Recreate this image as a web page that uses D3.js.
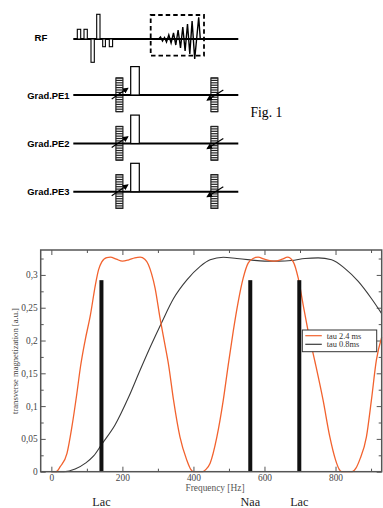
<!DOCTYPE html>
<html>
<head>
<meta charset="utf-8">
<script src="https://cdn.jsdelivr.net/npm/d3@7.9.0/dist/d3.min.js"></script>
<style>
  body { margin: 0; background: #fff; }
  svg { display: block; }
</style>
</head>
<body>
<div id="chart"></div>
<script>
// ---- pulse sequence diagram (offsets along the time axis, amplitudes in px) ----
const rfPulses = [
  { t: 4.0, w: 3.4, a: 9.7 },
  { t: 10.7, w: 3.3, a: 9.7 },
  { t: 17.7, w: 3.3, a: -23.3 },
  { t: 23.4, w: 3.3, a: 24.7 },
  { t: 29.4, w: 2.7, a: -7.7 },
  { t: 36.0, w: 3.3, a: -7.7 },
];
const echoPoints = [
  [85.4, 0], [87.2, 2], [89.2, -2], [91.2, 1.5], [93.2, -3], [95.5, 4], [97.8, -4],
  [100.2, 6], [102.5, -6], [104.8, 9], [107.2, -9], [109.5, 12], [111.8, -12],
  [114.2, 15], [116.5, -15], [118.8, 18], [121.4, -20], [125.4, 21.7], [127.0, 0],
];
const echoBox = { t0: 77.4, t1: 130.7, top: 24, bottom: -16.7 };
const gradRows = ['Grad.PE1', 'Grad.PE2', 'Grad.PE3'];
const gradBaselines = [95, 143.5, 191.7];
const gradLobe = { t: 57.4, w: 8.6, a: 28.4 };
const ladderPos = [42.6, 137.6];
const ladderRungs = [-17, -14.6, -12.2, -9.8, -7.4, -5, -2.6, -0.2, 2.2, 4.6, 7, 9.4, 11.8, 14.2, 16.6];
const arrowsPE = [
  { from: [38.4, -4], to: [54.4, 6.7] },
  { from: [150, 5], to: [134, -5] },
];

// ---- frequency response plot ----
const tau24 = [
  [0, 0], [13, 0], [25, 0.0076], [44, 0.028], [58, 0.069], [72, 0.12], [82, 0.16], [95, 0.2],
  [110, 0.239], [124, 0.285], [133, 0.308], [142, 0.32], [156, 0.3265], [166, 0.327],
  [183, 0.324], [200, 0.321], [218, 0.323], [235, 0.326], [250, 0.327], [263, 0.324],
  [273, 0.316], [282, 0.302], [292, 0.28], [306, 0.234], [320, 0.193], [330, 0.163],
  [344, 0.109], [362, 0.053], [381, 0.018], [392, 0.004], [400, 0], [426, 0], [436, 0.004],
  [447, 0.013], [466, 0.053], [484, 0.109], [498, 0.163], [512, 0.214], [526, 0.259],
  [540, 0.295], [554, 0.318], [568, 0.325], [582, 0.327], [600, 0.324], [629, 0.321],
  [650, 0.324], [665, 0.327], [681, 0.32], [695, 0.295], [709, 0.254], [723, 0.214],
  [742, 0.168], [765, 0.109], [784, 0.053], [800, 0.018], [810, 0.004], [817, 0], [847, 0],
  [857, 0.005], [868, 0.018], [887, 0.053], [901, 0.109], [915, 0.17], [930, 0.205],
];
const tau08 = [
  [0, 0], [35, 0], [67, 0.004], [96, 0.013], [119, 0.024], [142, 0.042], [180, 0.072],
  [217, 0.113], [250, 0.155], [280, 0.192], [311, 0.228], [344, 0.264], [381, 0.292],
  [419, 0.313], [447, 0.323], [484, 0.327], [522, 0.325], [559, 0.323], [600, 0.321],
  [640, 0.321], [676, 0.322], [714, 0.325], [751, 0.326], [789, 0.323], [826, 0.31],
  [864, 0.29], [901, 0.264], [930, 0.241],
];
const peakFreqs = [141, 560, 698];
const peakHeights = [0.292, 0.292, 0.292];
const peakNames = ['Lac', 'Naa', 'Lac'];
const xMajor = [0, 200, 400, 600, 800];
const xMinor = [100, 300, 500, 700, 900];
const yMajor = [0, 0.05, 0.1, 0.15, 0.2, 0.25, 0.3];
const yMinor = [0.025, 0.075, 0.125, 0.175, 0.225, 0.275, 0.325];
const legendItems = [
  { label: 'tau 2.4 ms', color: '#f2622e' },
  { label: 'tau 0.8ms', color: '#3a3a3a' },
];

const W = 383, H = 508;
const svg = d3.select('#chart').append('svg')
  .attr('width', W).attr('height', H)
  .attr('viewBox', `0 0 ${W} ${H}`);

// ================= diagram =================
const tx = d3.scaleLinear().domain([0, 165]).range([73.3, 238.3]);
const sansBold = 'Liberation Sans, Arial, sans-serif';
const rfBase = 39;

const diag = svg.append('g').attr('class', 'diagram');

diag.append('text')
  .attr('x', 34.5).attr('y', 40.8)
  .attr('font-family', sansBold).attr('font-weight', 'bold').attr('font-size', 9.6)
  .text('RF');

diag.append('line')
  .attr('x1', tx(0)).attr('x2', tx(165))
  .attr('y1', rfBase).attr('y2', rfBase)
  .attr('stroke', '#000').attr('stroke-width', 2);

diag.selectAll('rect.rf')
  .data(rfPulses)
  .join('rect')
  .attr('class', 'rf')
  .attr('x', d => tx(d.t))
  .attr('width', d => tx(d.t + d.w) - tx(d.t))
  .attr('y', d => d.a > 0 ? rfBase - d.a : rfBase)
  .attr('height', d => Math.abs(d.a))
  .attr('fill', '#fff').attr('stroke', '#000').attr('stroke-width', 1.1);

// dashed acquisition box
diag.append('rect')
  .attr('x', tx(echoBox.t0)).attr('y', rfBase - echoBox.top)
  .attr('width', tx(echoBox.t1) - tx(echoBox.t0))
  .attr('height', echoBox.top - echoBox.bottom)
  .attr('fill', 'none').attr('stroke', '#000').attr('stroke-width', 1.8)
  .attr('stroke-dasharray', '4.5,3');

diag.append('path')
  .attr('d', d3.line().x(d => tx(d[0])).y(d => rfBase - d[1])(echoPoints))
  .attr('fill', 'none').attr('stroke', '#000').attr('stroke-width', 1.4)
  .attr('stroke-linejoin', 'miter');

// arrow marker
svg.append('defs').append('marker')
  .attr('id', 'arr').attr('viewBox', '0 0 10 10')
  .attr('refX', 8).attr('refY', 5)
  .attr('markerWidth', 5).attr('markerHeight', 5)
  .attr('orient', 'auto')
  .append('path').attr('d', 'M0,0 L10,5 L0,10 z').attr('fill', '#000');

gradRows.forEach((name, i) => {
  const base = gradBaselines[i];
  const g = diag.append('g');
  g.append('text')
    .attr('x', 69.5).attr('y', base + 3.5)
    .attr('text-anchor', 'end')
    .attr('font-family', sansBold).attr('font-weight', 'bold').attr('font-size', 9.4)
    .text(name);

  // ladders (phase encoding tables)
  ladderPos.forEach(t => {
    const lg = g.append('g');
    lg.append('rect')
      .attr('x', tx(t)).attr('y', base + ladderRungs[0])
      .attr('width', tx(t + 7) - tx(t))
      .attr('height', ladderRungs[ladderRungs.length - 1] - ladderRungs[0])
      .attr('fill', '#fff').attr('stroke', '#222').attr('stroke-width', 1.2);
    lg.selectAll('line')
      .data(ladderRungs)
      .join('line')
      .attr('x1', tx(t)).attr('x2', tx(t + 7))
      .attr('y1', d => base + d).attr('y2', d => base + d)
      .attr('stroke', '#222').attr('stroke-width', 1.2);
  });

  g.append('line')
    .attr('x1', tx(0)).attr('x2', tx(165))
    .attr('y1', base).attr('y2', base)
    .attr('stroke', '#000').attr('stroke-width', 2);

  g.append('rect')
    .attr('x', tx(gradLobe.t)).attr('y', base - gradLobe.a)
    .attr('width', tx(gradLobe.t + gradLobe.w) - tx(gradLobe.t))
    .attr('height', gradLobe.a)
    .attr('fill', '#fff').attr('stroke', '#000').attr('stroke-width', 1.2);

  arrowsPE.forEach(a => {
    g.append('line')
      .attr('x1', tx(a.from[0])).attr('y1', base - a.from[1])
      .attr('x2', tx(a.to[0])).attr('y2', base - a.to[1])
      .attr('stroke', '#000').attr('stroke-width', 1.2)
      .attr('marker-end', 'url(#arr)');
  });
});

diag.append('text')
  .attr('x', 250.5).attr('y', 117)
  .attr('font-family', 'Liberation Serif, Times New Roman, serif')
  .attr('font-size', 13.6)
  .text('Fig. 1');

// ================= plot =================
const serif = 'Liberation Serif, Times New Roman, serif';
const plot = { left: 40.7, right: 381.7, top: 250, bottom: 471.7 };

const x = d3.scaleLinear().domain([-30, 930]).range([plot.left, plot.right]);
const y = d3.scaleLinear().domain([0, 0.338]).range([plot.bottom, plot.top]);

const pg = svg.append('g').attr('class', 'plot');

const commaFmt = d => d === 0 ? '0' : String(d).replace('.', ',');

function styleAxis(sel) {
  sel.select('.domain').remove();
  sel.selectAll('line').attr('stroke', '#555').attr('stroke-width', 1);
  sel.selectAll('text')
    .attr('font-family', serif).attr('font-size', 9.4).attr('fill', '#444');
}

// bottom
pg.append('g').attr('transform', `translate(0,${plot.bottom})`)
  .call(d3.axisBottom(x).tickValues(xMajor).tickSize(-5).tickPadding(2.5).tickFormat(d3.format('d')))
  .call(styleAxis);
pg.append('g').attr('transform', `translate(0,${plot.bottom})`)
  .call(d3.axisBottom(x).tickValues(xMinor).tickSize(-3).tickFormat(''))
  .call(styleAxis);
// top
pg.append('g').attr('transform', `translate(0,${plot.top})`)
  .call(d3.axisTop(x).tickValues(xMajor).tickSize(-5).tickFormat(''))
  .call(styleAxis);
pg.append('g').attr('transform', `translate(0,${plot.top})`)
  .call(d3.axisTop(x).tickValues(xMinor).tickSize(-3).tickFormat(''))
  .call(styleAxis);
// left
pg.append('g').attr('transform', `translate(${plot.left},0)`)
  .call(d3.axisLeft(y).tickValues(yMajor).tickSize(-5).tickPadding(3).tickFormat(commaFmt))
  .call(styleAxis);
pg.append('g').attr('transform', `translate(${plot.left},0)`)
  .call(d3.axisLeft(y).tickValues(yMinor).tickSize(-3).tickFormat(''))
  .call(styleAxis);
// right
pg.append('g').attr('transform', `translate(${plot.right},0)`)
  .call(d3.axisRight(y).tickValues(yMajor).tickSize(-5).tickFormat(''))
  .call(styleAxis);
pg.append('g').attr('transform', `translate(${plot.right},0)`)
  .call(d3.axisRight(y).tickValues(yMinor).tickSize(-3).tickFormat(''))
  .call(styleAxis);

// curves
const line = d3.line()
  .x(d => x(d[0]))
  .y(d => y(d[1]))
  .curve(d3.curveMonotoneX);

pg.append('path').datum(tau08)
  .attr('d', line)
  .attr('fill', 'none').attr('stroke', legendItems[1].color).attr('stroke-width', 1.1);
pg.append('path').datum(tau24)
  .attr('d', line)
  .attr('fill', 'none').attr('stroke', legendItems[0].color).attr('stroke-width', 1.3);

// metabolite bars
pg.selectAll('rect.peak')
  .data(peakFreqs)
  .join('rect')
  .attr('class', 'peak')
  .attr('x', d => x(d) - 2)
  .attr('width', 4)
  .attr('y', (d, i) => y(peakHeights[i]))
  .attr('height', (d, i) => y(0) - y(peakHeights[i]))
  .attr('fill', '#111');

// frame
pg.append('rect')
  .attr('x', plot.left).attr('y', plot.top)
  .attr('width', plot.right - plot.left).attr('height', plot.bottom - plot.top)
  .attr('fill', 'none').attr('stroke', '#555').attr('stroke-width', 1.5);

// axis titles
pg.append('text')
  .attr('x', 215).attr('y', 491)
  .attr('text-anchor', 'middle')
  .attr('font-family', serif).attr('font-size', 9.4).attr('fill', '#555')
  .text('Frequency [Hz]');
pg.append('text')
  .attr('transform', `translate(17.5,361) rotate(-90)`)
  .attr('text-anchor', 'middle')
  .attr('font-family', serif).attr('font-size', 8.6).attr('fill', '#444')
  .text('transverse magnetization [a.u.]');

// legend
const lg = pg.append('g').attr('transform', 'translate(302.3,330)');
lg.append('rect')
  .attr('width', 74.4).attr('height', 21.7)
  .attr('fill', '#fff').attr('stroke', '#333').attr('stroke-width', 1);
legendItems.forEach((d, i) => {
  const yy = 5.7 + i * 8.6;
  lg.append('line')
    .attr('x1', 3).attr('x2', 19.5).attr('y1', yy).attr('y2', yy)
    .attr('stroke', d.color).attr('stroke-width', 1.2);
  lg.append('text')
    .attr('x', 24.4).attr('y', yy + 2.8)
    .attr('font-family', serif).attr('font-size', 8.4).attr('fill', '#333')
    .text(d.label);
});

// peak names
pg.selectAll('text.peakname')
  .data(peakFreqs)
  .join('text')
  .attr('class', 'peakname')
  .attr('x', d => x(d))
  .attr('y', 505.5)
  .attr('text-anchor', 'middle')
  .attr('font-family', serif).attr('font-size', 12.2).attr('fill', '#222')
  .text((d, i) => peakNames[i]);
</script>
</body>
</html>
